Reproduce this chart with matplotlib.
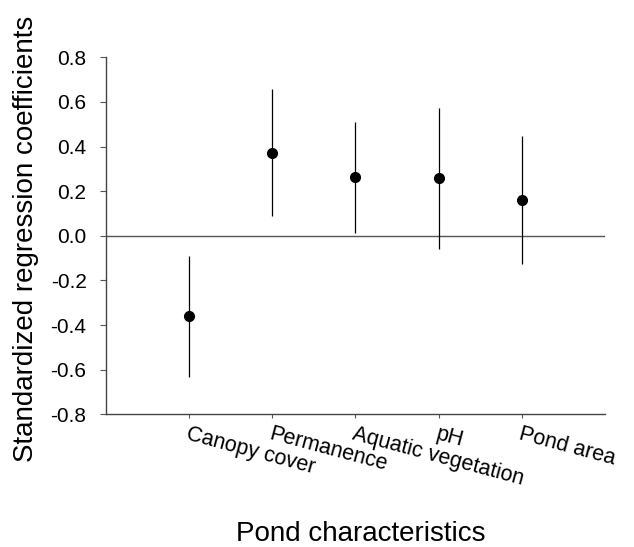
import matplotlib
matplotlib.use("Agg")
import matplotlib.pyplot as plt

plt.rcParams['font.family'] = ['Liberation Sans', 'DejaVu Sans']

categories = ["Canopy cover", "Permanence", "Aquatic vegetation", "pH", "Pond area"]
coef = [-0.36, 0.373, 0.264, 0.259, 0.161]
ci_low = [-0.631, 0.089, 0.014, -0.059, -0.126]
ci_high = [-0.091, 0.658, 0.510, 0.573, 0.448]
yticks = [-0.8, -0.6, -0.4, -0.2, 0.0, 0.2, 0.4, 0.6, 0.8]

fig = plt.figure(figsize=(6.34, 5.47), dpi=100)
ax = fig.add_axes([0.1672, 0.2426, 0.954 - 0.1672, 0.8952 - 0.2426])

x = list(range(1, len(categories) + 1))
lower = [c - l for c, l in zip(coef, ci_low)]
upper = [h - c for c, h in zip(coef, ci_high)]
ax.errorbar(x, coef, yerr=[lower, upper], fmt='o', color='black', ecolor='black',
            elinewidth=0.9, capsize=0, markersize=7, zorder=3)
ax.axhline(0, color='#555555', linewidth=1.0, zorder=1)

ax.set_xlim(0, 6)
ax.set_ylim(-0.8, 0.8)
ax.set_yticks(yticks)
ax.set_yticklabels([f"{v:.1f}" for v in yticks], fontsize=15)
ax.set_xticks(x)
ax.set_xticklabels(categories, fontsize=15.5, rotation=-15, ha='left', va='top',
                   rotation_mode='anchor')
ax.tick_params(axis='x', length=3, width=0.8, pad=4, color='#555555')
ax.tick_params(axis='y', length=4, width=0.8, pad=10, color='#555555')

for s in ['top', 'right']:
    ax.spines[s].set_visible(False)
for s in ['left', 'bottom']:
    ax.spines[s].set_color('#444444')
    ax.spines[s].set_linewidth(1.0)

fig.text(33 / 634, 1 - 238.5 / 547, "Standardized regression coefficients", fontsize=20,
         rotation=90, rotation_mode='anchor', ha='center', va='baseline')
fig.text(361 / 634, 1 - 541 / 547, "Pond characteristics", fontsize=20,
         ha='center', va='baseline')

fig.savefig("out.png", dpi=100)
